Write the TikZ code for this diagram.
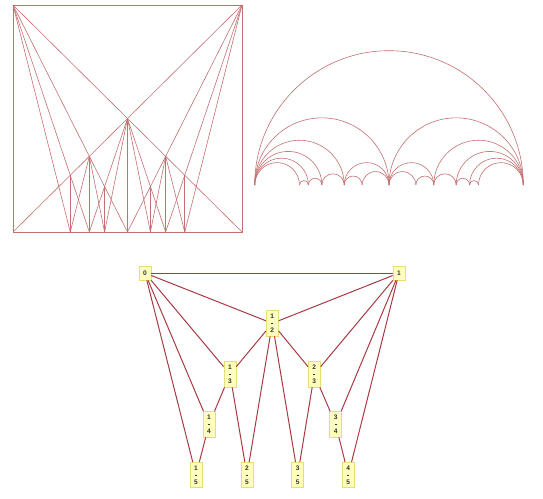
\documentclass[tikz,border=0pt]{standalone}
\usepackage{fontspec}
\setmainfont{Liberation Sans}
\usetikzlibrary{positioning}
\definecolor{cLine}{RGB}{196,112,112}
\definecolor{cEdge}{RGB}{168,58,66}
\definecolor{cNodeFill}{RGB}{255,255,189}
\definecolor{cNodeDraw}{RGB}{232,222,120}
\tikzset{
    fareyline/.style={draw=cLine, line width=0.6pt},
    fracnode/.style={rectangle, draw=cNodeDraw, fill=cNodeFill, line width=0.7pt, align=center, font=\fontsize{6.6}{7}\selectfont\bfseries, text=black!80, inner xsep=2pt, inner ysep=3.4pt, minimum width=12pt, minimum height=14pt},
    graphedge/.style={draw=cEdge, line width=1pt},
}
\newcommand{\fareyfrac}[2]{#1\\\rule[1.8pt]{2.2pt}{0.4pt}\\#2}

\begin{document}
\begin{tikzpicture}[x=1pt, y=-1pt]
    \useasboundingbox (0,0) rectangle (543,498);
    % Farey lines in the unit square
    \begin{scope}[shift={(13,232)}, x=229pt, y=227pt]
        \draw[fareyline, line width=0.8pt] (0,0) rectangle (1,1);
        \foreach \a/\b/\c/\d in {0/1/1/1, 1/1/0/1, 0/1/1/2, 1/1/1/2, 0/1/1/3, 1/2/1/3, 1/2/2/3, 1/1/2/3,
                0/1/1/4, 1/3/1/4, 1/3/2/5, 1/2/2/5, 1/2/3/5, 2/3/3/5, 2/3/3/4, 1/1/3/4}
            \draw[fareyline] ({\a/\b},{1/\b}) -- ({\c/\d},0);
        \foreach \p/\q in {1/2, 1/3, 2/3, 1/4, 2/5, 3/5, 3/4}
            \draw[fareyline] ({\p/\q},{1/\q}) -- ({\p/\q},0);
    \end{scope}
    % Farey arcs
    \begin{scope}[shift={(254.7,185)}, x=268.6pt, y=268.6pt]
        \foreach \a/\b/\c/\d in {0/1/1/1, 0/1/1/2, 1/2/1/1, 0/1/1/3, 1/3/1/2, 1/2/2/3, 2/3/1/1,
                0/1/1/4, 1/4/1/3, 2/3/3/4, 3/4/1/1, 0/1/1/5, 1/5/1/4, 1/3/2/5, 2/5/1/2, 1/2/3/5,
                3/5/2/3, 3/4/4/5, 4/5/1/1, 0/1/1/6, 1/6/1/5, 4/5/5/6, 5/6/1/1}
            \draw[fareyline] ({\a/\b},0) arc[start angle=180, end angle=0, radius={(\c/\d-\a/\b)/2}];
    \end{scope}
    % Farey graph
    \node[fracnode] (f01) at (145,273) {0};
    \node[fracnode] (f11) at (399,273) {1};
    \node[fracnode] (f12) at (272.3,323.3) {\fareyfrac{1}{2}};
    \node[fracnode] (f13) at (230,374.3) {\fareyfrac{1}{3}};
    \node[fracnode] (f23) at (314.3,374.3) {\fareyfrac{2}{3}};
    \node[fracnode] (f14) at (209,424.3) {\fareyfrac{1}{4}};
    \node[fracnode] (f34) at (335.7,424.3) {\fareyfrac{3}{4}};
    \node[fracnode] (f15) at (196,475) {\fareyfrac{1}{5}};
    \node[fracnode] (f25) at (247,475) {\fareyfrac{2}{5}};
    \node[fracnode] (f35) at (297.7,475) {\fareyfrac{3}{5}};
    \node[fracnode] (f45) at (348.3,475) {\fareyfrac{4}{5}};
    \foreach \u/\v in {f01/f11, f01/f12, f11/f12, f01/f13, f12/f13, f12/f23, f11/f23,
            f01/f14, f13/f14, f23/f34, f11/f34, f01/f15, f14/f15, f13/f25, f12/f25,
            f12/f35, f23/f35, f34/f45, f11/f45}
        \draw[graphedge] (\u) -- (\v);
\end{tikzpicture}
\end{document}
